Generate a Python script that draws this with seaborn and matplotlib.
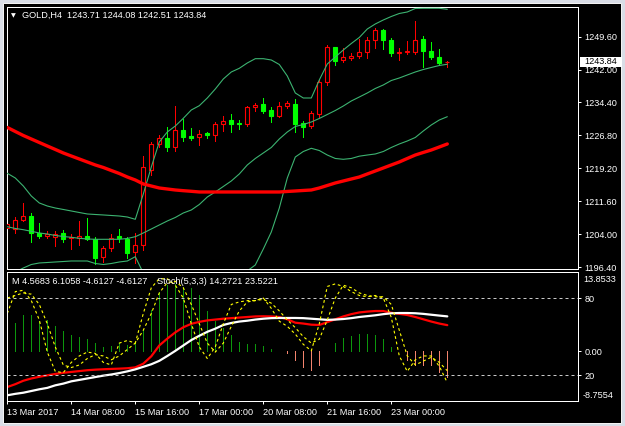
import numpy as np
import pandas as pd
import matplotlib
matplotlib.use('Agg')
from matplotlib import pyplot as plt
from matplotlib.patches import Rectangle
import seaborn as sns

# GOLD H4 candles (oldest first)
opens = [1205.34, 1205.11, 1207.19, 1208.12, 1204.19, 1203.63, 1203.26, 1204.26, 1203.03, 1203.03,
         1203.49, 1202.80, 1198.64, 1200.72, 1203.50, 1202.87, 1199.94, 1201.56, 1218.81, 1224.75,
         1226.13, 1224.06, 1228.05, 1226.66, 1226.43, 1227.29, 1226.90, 1229.37, 1230.29, 1229.60,
         1229.37, 1233.29, 1234.06, 1232.67, 1231.35, 1233.66, 1234.06, 1229.60, 1228.97, 1231.75,
         1239.21, 1247.15, 1244.22, 1244.75, 1245.07, 1245.99, 1248.84, 1251.08, 1248.77, 1245.77,
         1246.00, 1246.14, 1249.07, 1246.30, 1244.84, 1243.71]
highs = [1207.26, 1207.88, 1211.12, 1208.81, 1206.64, 1204.72, 1204.72, 1204.95, 1203.96, 1207.03,
         1207.79, 1203.40, 1201.25, 1203.96, 1205.18, 1203.33, 1204.26, 1222.04, 1225.35, 1226.90,
         1228.67, 1233.59, 1230.52, 1228.44, 1228.05, 1227.66, 1229.97, 1231.28, 1231.75, 1230.36,
         1233.59, 1234.36, 1235.37, 1233.43, 1234.59, 1234.82, 1235.14, 1230.20, 1232.51, 1239.60,
         1247.68, 1247.30, 1246.92, 1245.91, 1249.00, 1249.60, 1251.54, 1251.38, 1249.23, 1246.92,
         1248.61, 1253.23, 1249.83, 1248.31, 1246.76, 1244.08]
lows = [1203.63, 1204.19, 1207.10, 1202.25, 1203.17, 1203.17, 1201.32, 1202.25, 1200.49, 1201.49,
        1202.64, 1197.03, 1197.63, 1200.10, 1202.18, 1198.48, 1197.33, 1200.33, 1217.66, 1224.06,
        1223.27, 1223.27, 1225.58, 1225.74, 1224.58, 1226.13, 1225.58, 1227.89, 1227.66, 1228.35,
        1228.97, 1232.51, 1231.91, 1229.97, 1230.98, 1233.06, 1227.66, 1226.50, 1228.58, 1231.13,
        1238.45, 1243.07, 1243.83, 1244.22, 1244.61, 1244.61, 1246.92, 1246.76, 1245.21, 1244.22,
        1245.54, 1245.54, 1242.67, 1244.38, 1243.07, 1242.51]
closes = [1206.27, 1207.19, 1208.12, 1204.19, 1203.63, 1203.95, 1204.09, 1202.94, 1203.40, 1203.49,
          1202.94, 1198.55, 1200.72, 1203.03, 1203.10, 1199.70, 1201.42, 1219.43, 1224.82, 1226.13,
          1224.06, 1228.05, 1226.50, 1226.27, 1227.13, 1226.83, 1229.44, 1230.20, 1229.37, 1229.37,
          1233.29, 1233.82, 1232.44, 1231.35, 1233.66, 1234.22, 1229.37, 1228.67, 1231.98, 1239.21,
          1247.15, 1244.06, 1244.84, 1245.14, 1245.99, 1248.84, 1251.08, 1248.77, 1245.77, 1246.00,
          1246.30, 1248.84, 1246.37, 1244.98, 1243.60, 1243.84]

# Bollinger bands and slow moving average (read per bar)
bb_upper = [1218.05, 1216.96, 1215.11, 1212.80, 1211.19, 1210.49, 1210.03, 1209.69, 1209.34, 1208.99,
            1208.65, 1208.53, 1208.42, 1208.30, 1208.18, 1207.95, 1207.42, 1213.26, 1219.50, 1225.28,
            1227.59, 1228.97, 1230.75, 1232.67, 1233.66, 1235.44, 1237.52, 1239.83, 1241.45, 1242.30,
            1243.53, 1244.52, 1244.52, 1244.22, 1243.18, 1240.52, 1236.60, 1235.44, 1235.44, 1239.60,
            1243.30, 1244.91, 1246.53, 1248.03, 1249.42, 1251.38, 1252.54, 1253.46, 1254.27, 1254.96,
            1255.31, 1256.12, 1256.16, 1256.16, 1256.16, 1255.93]
bb_middle = [1205.71, 1205.30, 1205.02, 1204.65, 1204.26, 1204.03, 1203.68, 1203.45, 1203.26, 1203.03,
             1202.87, 1202.80, 1202.80, 1202.80, 1202.80, 1202.99, 1203.40, 1204.26, 1205.18, 1206.11,
             1207.03, 1207.84, 1208.88, 1209.57, 1210.84, 1212.57, 1213.73, 1215.00, 1216.27, 1217.89,
             1219.97, 1221.47, 1222.74, 1224.01, 1225.97, 1227.59, 1228.86, 1229.32, 1229.90, 1230.71,
             1231.63, 1232.55, 1233.59, 1234.75, 1235.67, 1236.60, 1237.64, 1238.45, 1239.48, 1240.06,
             1240.76, 1241.45, 1242.02, 1242.49, 1242.95, 1243.23]
bb_lower = [1193.17, 1195.25, 1196.17, 1196.98, 1197.33, 1197.44, 1197.56, 1197.67, 1197.79, 1197.79,
            1197.79, 1197.21, 1196.98, 1197.21, 1197.56, 1197.79, 1198.78, 1195.02, 1190.90, 1186.90,
            1186.50, 1186.70, 1187.00, 1186.50, 1188.00, 1189.70, 1190.00, 1190.20, 1191.10, 1193.50,
            1195.50, 1196.87, 1200.56, 1204.49, 1210.03, 1216.96, 1221.81, 1223.08, 1223.82, 1223.31,
            1222.27, 1221.47, 1221.28, 1221.47, 1222.00, 1222.27, 1222.51, 1223.08, 1224.01, 1224.82,
            1225.51, 1226.32, 1227.82, 1229.21, 1230.36, 1231.12]
ma_slow = [1228.63, 1227.70, 1226.78, 1225.97, 1225.16, 1224.35, 1223.55, 1222.74, 1222.04, 1221.35,
           1220.66, 1219.97, 1219.39, 1218.69, 1218.00, 1217.19, 1216.50, 1215.58, 1215.11, 1214.65,
           1214.42, 1214.19, 1214.03, 1213.89, 1213.73, 1213.73, 1213.73, 1213.73, 1213.73, 1213.73,
           1213.73, 1213.73, 1213.73, 1213.73, 1213.73, 1213.85, 1213.96, 1214.08, 1214.19, 1214.65,
           1215.23, 1215.81, 1216.27, 1216.73, 1217.19, 1217.89, 1218.58, 1219.27, 1219.97, 1220.66,
           1221.47, 1222.27, 1222.86, 1223.43, 1224.12, 1224.82]

# sub window: MACD-type indicator + Stochastic(5,3,3)
macd_hist = [3.5, 4.95, 6.3, 6.4, 5.25, 5.4, 4.4, 3.5, 2.8, 2.4,
             2.2, 1.5, 0.75, 0.9, 1.45, 1.05, 1.5, 3.7, 7.2, 10.4,
             11.6, 11.8, 11.3, 11.1, 9.8, 7.0, 5.3, 4.0, 2.9, 1.6,
             1.3, 1.3, 0.9, 0.3, 0.05, -0.3, -1.5, -2.7, -3.3, -2.4,
             0.1, 1.4, 2.3, 2.7, 3.0, 3.0, 2.85, 2.1, 0.8, 0.0,
             -1.55, -2.4, -2.4, -2.4, -3.7, -4.61]
macd_white = [-7.75, -7.5, -7.3, -7.0, -6.7, -6.45, -6.0, -5.7, -5.3, -5.05,
              -4.8, -4.55, -4.3, -4.1, -3.85, -3.55, -3.2, -2.75, -2.3, -1.7,
              -0.85, 0.05, 1.0, 1.95, 2.7, 3.4, 3.95, 4.6, 4.95, 5.2,
              5.35, 5.55, 5.7, 5.8, 5.83, 5.83, 5.83, 5.8, 5.7, 5.6,
              5.5, 5.55, 5.65, 5.8, 6.0, 6.15, 6.3, 6.5, 6.65, 6.7,
              6.7, 6.66, 6.55, 6.4, 6.25, 6.11]
macd_red = [-6.3, -5.8, -5.2, -4.8, -4.5, -4.25, -4.0, -3.8, -3.65, -3.5,
            -3.35, -3.25, -3.18, -3.12, -3.07, -3.0, -2.85, -2.2, -0.9, 1.0,
            2.2, 3.3, 4.2, 4.8, 5.15, 5.4, 5.55, 5.7, 5.8, 5.9,
            6.0, 6.1, 6.13, 6.1, 6.0, 5.6, 5.0, 4.85, 4.65, 4.6,
            5.1, 5.6, 6.1, 6.5, 6.8, 6.95, 7.05, 7.05, 6.75, 6.55,
            6.35, 6.0, 5.6, 5.2, 4.85, 4.57]
stoch_k = [68, 85, 86, 78, 63, 38, 23, 22, 30, 35,
           38, 37, 30, 28, 45, 47, 45, 68, 88, 95,
           95, 90, 80, 60, 42, 33, 42, 60, 75, 77,
           78, 78, 80, 72, 62, 58, 52, 44, 39, 60,
           89, 91, 89, 85, 82, 81, 82, 80, 65, 35,
           23, 32, 35, 35, 27, 14.27]
stoch_d = [80, 82, 84, 83, 75, 60, 42, 28, 26, 28,
           33, 36, 35, 32, 35, 40, 45, 55, 68, 84,
           92, 93, 88, 75, 60, 45, 38, 45, 58, 70,
           77, 78, 79, 76, 70, 63, 57, 50, 45, 48,
           63, 80, 90, 88, 84, 82, 81, 81, 75, 55,
           35, 28, 31, 34, 30, 23.52]

price_ticks = [1249.60, 1242.00, 1234.40, 1226.80, 1219.20, 1211.60, 1204.00, 1196.40]
date_bars = [0, 8, 16, 24, 32, 40, 48]
date_labels = ['13 Mar 2017', '14 Mar 08:00', '15 Mar 16:00', '17 Mar 00:00',
               '20 Mar 08:00', '21 Mar 16:00', '23 Mar 00:00']
last_price = 1243.84

df = pd.DataFrame({'open': opens, 'high': highs, 'low': lows, 'close': closes})
df['bar'] = np.arange(len(df))
bull = df['close'] >= df['open']

sns.set_style("dark", {'axes.facecolor': 'black', 'axes.edgecolor': 'white',
                       'xtick.color': 'white', 'ytick.color': 'white', 'text.color': 'white'})
plt.rcParams['font.family'] = ['Liberation Sans', 'DejaVu Sans']
FS = 6.6
PX = 0.72  # one pixel, in points
LIME, RED, BAND = '#00ff00', '#ff0000', '#3cb371'

W, H = 625, 426
fig = plt.figure(figsize=(W / 100, H / 100), dpi=100, facecolor='#d9dde6')


def frac(x0, y0, x1, y1):
    # pixel box (top-left origin) -> figure fraction rect
    return [x0 / W, 1 - y1 / H, (x1 - x0) / W, (y1 - y0) / H]


fig.add_artist(Rectangle(frac(3, 3, 621, 423)[:2], 618 / W, 420 / H, transform=fig.transFigure,
                         facecolor='black', edgecolor='#f2f2f2', lw=PX, zorder=-1))

ax = fig.add_axes(frac(6.7, 7.3, 578.3, 269.3))
axm = fig.add_axes(frac(6.7, 272.3, 578.3, 401), sharex=ax)

# ---- main price window
ax.vlines(df['bar'], df['low'], df['high'], colors=np.where(bull, RED, LIME), lw=PX,
          antialiased=False, zorder=2)
body_lo = np.minimum(df['open'], df['close'])
body_h = (df['close'] - df['open']).abs()
ax.bar(df['bar'][bull], body_h[bull], bottom=body_lo[bull], width=0.5,
       facecolor='black', edgecolor=RED, linewidth=0.8, zorder=3)
ax.bar(df['bar'][~bull], body_h[~bull], bottom=body_lo[~bull], width=0.5,
       facecolor=LIME, edgecolor=LIME, linewidth=0.8, zorder=3)

for band in (bb_upper, bb_middle, bb_lower):
    sns.lineplot(x=df['bar'], y=band, ax=ax, color=BAND, lw=0.8, zorder=4)
sns.lineplot(x=df['bar'], y=ma_slow, ax=ax, color=RED, lw=2.4, zorder=5)

ax.set_xlim(-0.075, 71.375)
ax.set_ylim(1195.87, 1256.39)
ax.yaxis.tick_right()
ax.set_yticks(price_ticks)
ax.set_yticklabels(['%.2f' % p for p in price_ticks])
ax.tick_params(axis='y', right=True, left=False, direction='out', length=2.2, width=PX,
               pad=2.5, labelsize=FS, colors='white')
ax.tick_params(axis='x', bottom=False, labelbottom=False)
ax.set_xlabel('')
ax.set_ylabel('')

# ---- indicator window
hist_cols = np.where(np.array(macd_hist) >= 0, '#0c960c', '#f4846e')
axm.vlines(df['bar'], 0, macd_hist, colors=hist_cols, lw=PX, antialiased=False, zorder=2)
sns.lineplot(x=df['bar'], y=macd_red, ax=axm, color=RED, lw=1.6, zorder=3)
sns.lineplot(x=df['bar'], y=macd_white, ax=axm, color='white', lw=1.6, zorder=4)
axm.set_ylim(-8.7554, 13.8533)
axm.set_xticks(date_bars)
axm.set_xticklabels(date_labels, ha='left')
axm.set_xlabel('')
axm.set_ylabel('')

ast = axm.twinx()
ast.set_ylim(0, 100)
for lvl in (80, 20):
    ast.axhline(lvl, color='#c8c8c8', lw=PX, ls=(0, (3, 3)), zorder=1)
sns.lineplot(x=df['bar'], y=stoch_k, ax=ast, color='#ffff00', lw=0.8, ls=(0, (2.5, 2.5)))
sns.lineplot(x=df['bar'], y=stoch_d, ax=ast, color='#ffff00', lw=0.8, ls=(0, (2.5, 2.5)))
ast.set_yticks([80, 20])
ast.set_yticklabels(['80', '20'])
ast.tick_params(axis='y', right=True, direction='out', length=2.2, width=PX, pad=2.5,
                labelsize=FS, colors='white')
ast.set_ylabel('')

# twinx moved the MACD ticks to the left: put them back on the right
axm.yaxis.tick_right()
axm.set_yticks([0])
axm.set_yticklabels(['0.00'])
axm.tick_params(axis='both', direction='out', length=2.2, width=PX, labelsize=FS, colors='white')
axm.tick_params(axis='y', right=True, left=False, pad=2.5)
axm.tick_params(axis='x', bottom=True, pad=2.5)

for a in (ax, axm, ast):
    for s in a.spines.values():
        s.set_color('white')
        s.set_linewidth(PX)

# texts
fig.text(13.3 / W, 1 - 15.5 / H, '\u25bc', fontsize=4.5, family='DejaVu Sans', color='white',
         ha='center', va='center')
fig.text(21.7 / W, 1 - 15.7 / H, 'GOLD,H4  1243.71 1244.08 1242.51 1243.84', fontsize=FS,
         color='white', va='center')
fig.text(11.7 / W, 1 - 281.3 / H, 'M 4.5683 6.1058 -4.6127 -4.6127', fontsize=FS,
         color='white', va='center')
fig.text(156.7 / W, 1 - 281.3 / H, 'Stoch(5,3,3) 14.2721 23.5221', fontsize=FS,
         color='white', va='center')
fig.text(583 / W, 1 - 280 / H, '13.8533', fontsize=FS, color='white', va='center')
fig.text(583 / W, 1 - 395.7 / H, '-8.7554', fontsize=FS, color='white', va='center')

# current price box
fig.add_artist(Rectangle(frac(580, 56.7, 621.7, 66.7)[:2], 41.7 / W, 10 / H,
                         transform=fig.transFigure, facecolor='white', edgecolor='none', zorder=5))
fig.text(584 / W, 1 - 61.7 / H, '%.2f' % last_price, fontsize=FS, color='black',
         va='center', zorder=6)

fig.savefig('out.png', dpi=100, facecolor=fig.get_facecolor())
